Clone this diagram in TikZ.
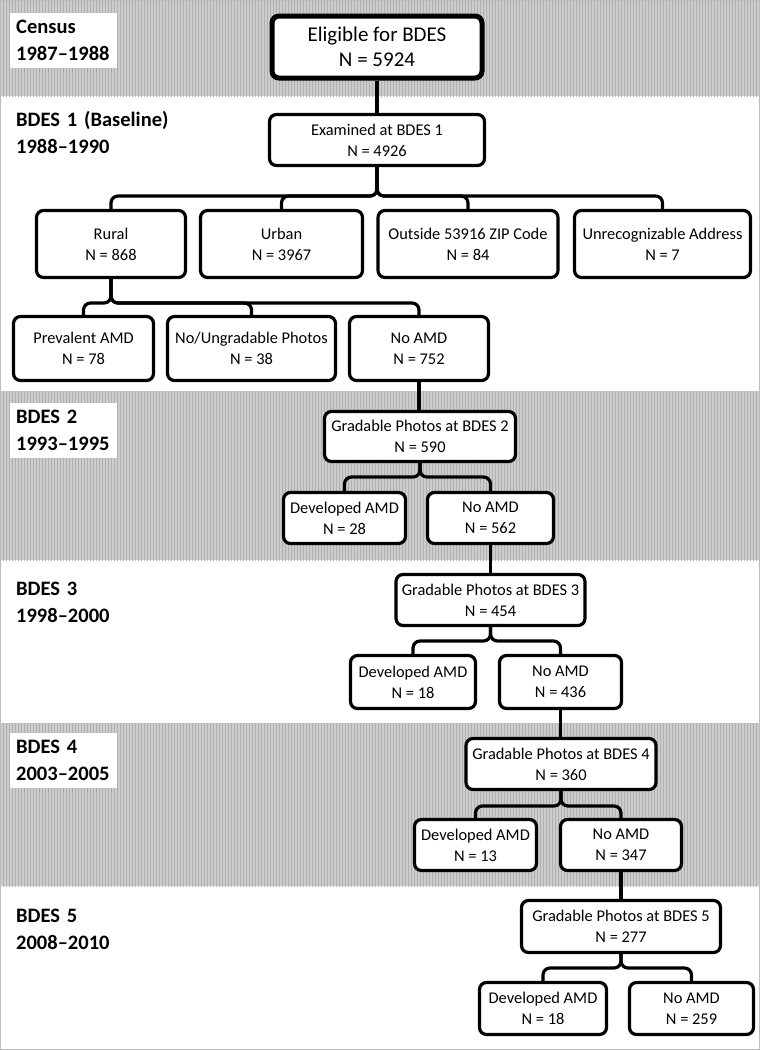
\documentclass[tikz,border=0pt]{standalone}
\usepackage{fontspec}
\setmainfont{Carlito}
\usetikzlibrary{patterns}
\definecolor{BandGray}{HTML}{CDCDCD}
\definecolor{Stripe}{HTML}{AFAFAF}
\definecolor{Frame}{HTML}{BDBDBD}
\tikzset{
  band/.style={fill=BandGray,postaction={pattern=vertical lines,pattern color=Stripe}},
  phase/.style={anchor=north west,fill=white,inner sep=6pt,text width=95pt,minimum height=55pt,align=left,font=\fontsize{20.5}{27}\selectfont\bfseries},
  box/.style={draw=black,fill=white,line width=3.2pt,rounded corners=7pt,align=center,inner sep=2pt,font=\fontsize{16.4}{21}\selectfont},
  link/.style={draw=black,line width=3.2pt,rounded corners=7pt}
}
\begin{document}
\begin{tikzpicture}[x=1pt,y=-1pt]
  \useasboundingbox (0,0) rectangle (760,1050);
  % bands
  \path[band] (0,0) rectangle (760,96);
  \path[band] (0,391) rectangle (760,560);
  \path[band] (0,723) rectangle (760,886);
  \draw[Frame,line width=1pt] (0.5,0.5) rectangle (759.5,1049.5);
  % phase labels
  \node[phase] (census) at (10,13) {Census\\1987--1988};
  \node[phase,fill=none,text width=170pt] (bdesA) at (10,105) {BDES 1 (Baseline)\\1988--1990};
  \node[phase] (bdesB) at (10,403) {BDES 2\\1993--1995};
  \node[phase,fill=none] (bdesC) at (10,575) {BDES 3\\1998--2000};
  \node[phase] (bdesD) at (10,733) {BDES 4\\2003--2005};
  \node[phase,fill=none] (bdesE) at (10,902) {BDES 5\\2008--2010};
  % boxes
  \node[box,line width=5pt,minimum width=210pt,minimum height=62pt,font=\fontsize{21}{25}\selectfont] (elig) at (377,47) {Eligible for BDES\\N = 5924};
  \node[box,minimum width=215pt,minimum height=51pt] (exam) at (377,140) {Examined at BDES 1\\N = 4926};
  \node[box,minimum width=149pt,minimum height=67pt] (rural) at (111,244) {Rural\\N = 868};
  \node[box,minimum width=162pt,minimum height=67pt] (urban) at (281.5,244) {Urban\\N = 3967};
  \node[box,minimum width=180pt,minimum height=67pt] (outside) at (468,244) {Outside 53916 ZIP Code\\N = 84};
  \node[box,minimum width=176pt,minimum height=67pt] (unrecog) at (662.5,244) {Unrecognizable Address\\N = 7};
  \node[box,minimum width=140pt,minimum height=64pt] (prev) at (83.5,348.5) {Prevalent AMD\\N = 78};
  \node[box,minimum width=168pt,minimum height=64pt] (nophoto) at (251.5,348.5) {No/Ungradable Photos\\N = 38};
  \node[box,minimum width=139pt,minimum height=64pt] (noamdA) at (419,348.5) {No AMD\\N = 752};
  \node[box,minimum width=191pt,minimum height=50pt] (gradB) at (420,436.5) {Gradable Photos at BDES 2\\N = 590};
  \node[box,minimum width=122pt,minimum height=51pt] (devB) at (344.5,518) {Developed AMD\\N = 28};
  \node[box,minimum width=126pt,minimum height=51pt] (noamdB) at (490.5,518) {No AMD\\N = 562};
  \node[box,minimum width=189pt,minimum height=51pt] (gradC) at (490.5,600) {Gradable Photos at BDES 3\\N = 454};
  \node[box,minimum width=125pt,minimum height=53pt] (devC) at (413,682) {Developed AMD\\N = 18};
  \node[box,minimum width=122pt,minimum height=53pt] (noamdC) at (560.5,682) {No AMD\\N = 436};
  \node[box,minimum width=190pt,minimum height=51pt] (gradD) at (561,764) {Gradable Photos at BDES 4\\N = 360};
  \node[box,minimum width=122pt,minimum height=51pt] (devD) at (475.5,845) {Developed AMD\\N = 13};
  \node[box,minimum width=121pt,minimum height=51pt] (noamdD) at (621,845) {No AMD\\N = 347};
  \node[box,minimum width=199pt,minimum height=52pt] (gradE) at (621,926.5) {Gradable Photos at BDES 5\\N = 277};
  \node[box,minimum width=127pt,minimum height=52pt] (devE) at (543,1008.5) {Developed AMD\\N = 18};
  \node[box,minimum width=124pt,minimum height=52pt] (noamdE) at (691.5,1008.5) {No AMD\\N = 259};
  % straight links
  \draw[link] (elig.south) -- (elig.south |- exam.north);
  \draw[link] (noamdA.south) -- (noamdA.south |- gradB.north);
  \draw[link] (noamdB.south) -- (noamdB.south |- gradC.north);
  \draw[link] (noamdC.south) -- (noamdC.south |- gradD.north);
  \draw[link] (noamdD.south) -- (noamdD.south |- gradE.north);
  % branching links
  \foreach \c in {rural,urban,outside,unrecog}
    \draw[link] (exam.south) -- (exam.south |- 0,196) -| (\c.north);
  \foreach \c in {prev,nophoto,noamdA}
    \draw[link] (rural.south) -- (rural.south |- 0,303) -| (\c.north);
  \foreach \c in {devB,noamdB}
    \draw[link] (gradB.south) -- (gradB.south |- 0,477) -| (\c.north);
  \foreach \c in {devC,noamdC}
    \draw[link] (gradC.south) -- (gradC.south |- 0,641) -| (\c.north);
  \foreach \c in {devD,noamdD}
    \draw[link] (gradD.south) -- (gradD.south |- 0,806) -| (\c.north);
  \foreach \c in {devE,noamdE}
    \draw[link] (gradE.south) -- (gradE.south |- 0,968) -| (\c.north);
\end{tikzpicture}
\end{document}
